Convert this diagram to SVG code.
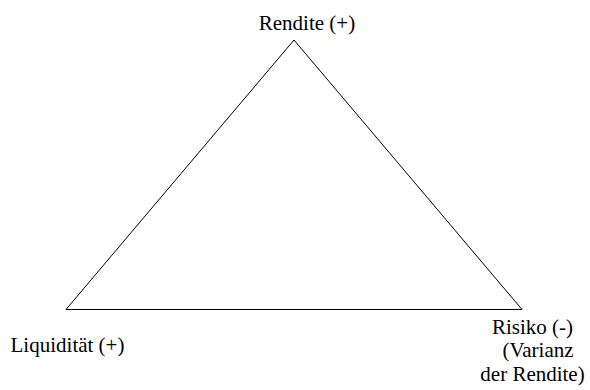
<svg xmlns="http://www.w3.org/2000/svg" width="590" height="390" viewBox="0 0 590 390">
<style>
.lbl{font-size:21px;fill:#000;text-anchor:middle}
.edge{fill:none;stroke:#000;stroke-width:1}
</style>
<rect width="590" height="390" fill="#fff"/>
<g id="connectors">
<path class="edge" d="M294,40 L66,309.5"/>
<path class="edge" d="M294,40 L522,309.5"/>
<path class="edge" d="M66,309.5 L522,309.5"/>
</g>
<g id="rendite"><text class="lbl" font-family="Liberation Serif, serif" x="307" y="30">Rendite (+)</text></g>
<g id="liquiditaet"><text class="lbl" font-family="Liberation Serif, serif" x="67.5" y="352">Liquidität (+)</text></g>
<g id="risiko" font-family="Liberation Serif, serif">
<text class="lbl" x="532.5" y="334">Risiko (-)</text>
<text class="lbl" x="538" y="357">(Varianz</text>
<text class="lbl" x="532.5" y="381">der Rendite)</text>
</g>
</svg>
